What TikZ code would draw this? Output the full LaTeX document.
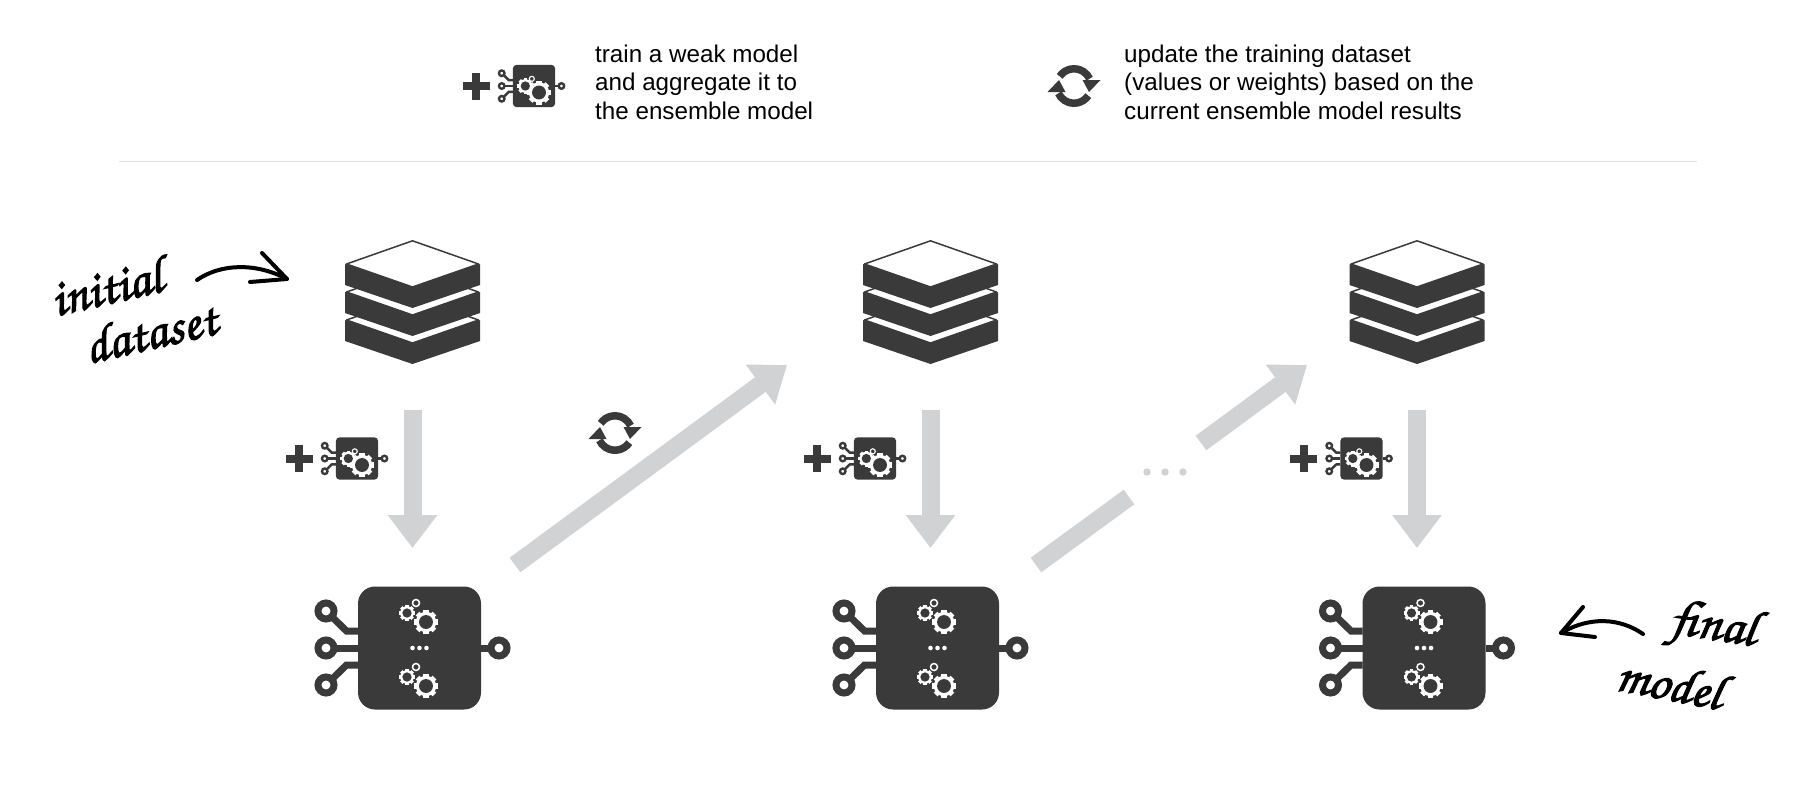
\documentclass[tikz,border=0pt]{standalone}
\usepackage{fontspec}
\usepackage[T1,TU]{fontenc}
\setmainfont{Liberation Sans}
\usetikzlibrary{arrows.meta, positioning}
\definecolor{darkgear}{HTML}{3A3A3A}
\definecolor{flowgray}{HTML}{D1D2D4}
\definecolor{rulegray}{HTML}{E0E1E2}
\newcommand{\handfont}{\fontencoding{T1}\fontfamily{pzc}\fontseries{m}\fontshape{it}\fontsize{52}{52}\selectfont}
\newcommand{\handtext}[1]{\special{pdf:code 2 Tr 1.1 w}#1\special{pdf:code 0 Tr}}
\tikzset{
  flow/.style={line width=18pt, flowgray, -{Triangle[length=33pt, width=47.5pt]}},
  flowbar/.style={line width=18pt, flowgray},
  hand/.style={line width=4pt, black, line cap=round, line join=round},
  note/.style={font=\handfont, inner sep=0pt},
  legend/.style={font=\fontsize{24.2}{28.5}\selectfont, align=left, anchor=north west, inner sep=0pt},
  pics/gear/.style={code={
    \foreach \a in {0,45,...,315} \fill[white, rotate=\a] (-.22,.75) rectangle (.22,1);
    \fill[white] (0,0) circle (.85);
    \fill[darkgear] (0,0) circle (.58);
  }},
  pics/gearset/.style={code={
    \pic[scale=12] at (0,0) {gear};
    \pic[scale=8] at (-19,-9) {gear};
    \draw[white, line width=#1, fill=darkgear] (-10,-19) circle (3.5);
  }},
  pics/chipbody/.style n args={2}{code={
    \fill[darkgear, rounded corners=#2] (-61.5,-61.5) rectangle (61.5,61.5);
    \draw[darkgear, line width=#1] (-93.5,-37) -- (-73,-17) -- (-61.5,-17);
    \draw[darkgear, line width=#1] (-93.5,0) -- (-61.5,0);
    \draw[darkgear, line width=#1] (-93.5,37) -- (-73,17) -- (-61.5,17);
    \draw[darkgear, line width=#1] (61.5,0) -- (79.5,0);
    \foreach \p in {(-93.5,-37),(-93.5,0),(-93.5,37),(79.5,0)}
      \draw[darkgear, line width=#1, fill=white] \p circle (8);
  }},
  pics/bigchip/.style={code={
    \pic {chipbody={7pt}{17pt}};
    \pic at (6.5,-26) {gearset=1.5pt};
    \pic at (6.5,38) {gearset=1.5pt};
    \foreach \x in {-7,0,7} \fill[white] (\x,0) circle (2.3);
  }},
  pics/addchip/.style={code={
    \pic[scale=.345] {chipbody={2.4pt}{4pt}};
    \pic[scale=.72] at (5,6.5) {gearset=1.1pt};
    \fill[darkgear] (-71.5,-4) rectangle (-44.5,4);
    \fill[darkgear] (-62,-13.5) rectangle (-54,13.5);
  }},
  pics/dataset/.style={code={
    \foreach \y in {56,28,0} {
      \draw[darkgear, line width=1.5pt, fill=white, line join=round] (0,0.8+\y) -- (66,24+\y) -- (0,47+\y) -- (-66,24+\y) -- cycle;
      \fill[darkgear] (-67.5,24+\y) -- (0,47+\y) -- (67.5,24+\y) -- (67.5,45+\y) -- (0,68+\y) -- (-67.5,45+\y) -- cycle;
    }
  }},
  pics/cycle/.style={code={
    \foreach \r in {0,180} {
      \draw[darkgear, line width=7.5pt, rotate=\r] (-146:17.2) arc[start angle=-146, end angle=-25, radius=17.2];
      \fill[darkgear, rotate=\r] (8.5,-6) -- (26.5,-6) -- (15,6) -- cycle;
    }
  }}
}
\begin{document}
\begin{tikzpicture}[x=1pt, y=-1pt]
\useasboundingbox (0,0) rectangle (1815,793);
\fill[white] (0,0) rectangle (1815,793);

% legend
\pic at (534,86) {addchip};
\node[legend] (trainlabel) at (595,44.5) {train a weak model\\and aggregate it to\\the ensemble model};
\pic at (1074,86) {cycle};
\node[legend] (updatelabel) at (1124,44.5) {update the training dataset\\(values or weights) based on the\\current ensemble model results};
\coordinate (ruleleft) at (119,161.5);
\coordinate (ruleright) at (1697,161.5);
\draw[rulegray, line width=1.5pt] (ruleleft) -- (ruleright);

% columns
\foreach \sx/\n in {412.5/a, 930.5/b, 1417/c} {
  \pic at (\sx,240) {dataset};
  \pic at (\sx-55.5,458.5) {addchip};
  \pic at (\sx+7,648) {bigchip};
  \coordinate (top\n) at (\sx,410);
  \coordinate (tip\n) at (\sx,548);
  \draw[flow] (top\n) -- (tip\n);
}

\pic at (615,433) {cycle};

\coordinate (upa) at (515,565);
\coordinate (upb) at (787,365);
\draw[flow] (upa) -- (upb);
\coordinate (upc) at (1036,565);
\coordinate (upd) at (1129,497);
\draw[flowbar] (upc) -- (upd);
\coordinate (upe) at (1201,443);
\coordinate (upf) at (1307,365);
\draw[flow] (upe) -- (upf);
\foreach \x in {1147,1165,1183} \fill[flowgray] (\x,472) circle (3.7);

% hand notes
\node[note, rotate=13] (initlabel) at (106,286) {\handtext{initial}};
\node[note, rotate=13] (datalabel) at (150,331) {\handtext{dataset}};
\coordinate (inita) at (197,280);
\coordinate (initb) at (287,279);
\coordinate (initc) at (262,253);
\coordinate (initd) at (250,282);
\draw[hand] (inita) .. controls (220,264) and (255,262) .. (initb);
\draw[hand] (initc) -- (initb) -- (initd);
\node[note, rotate=-9] (finallabel) at (1713,629) {\handtext{final}};
\node[note, rotate=-11] (modellabel) at (1670,682) {\handtext{model}};
\coordinate (fina) at (1643,634);
\coordinate (finb) at (1561,633);
\coordinate (finc) at (1583,607);
\coordinate (find) at (1595,637);
\draw[hand] (fina) .. controls (1620,618) and (1590,616) .. (finb);
\draw[hand] (finc) -- (finb) -- (find);
\end{tikzpicture}
\end{document}
